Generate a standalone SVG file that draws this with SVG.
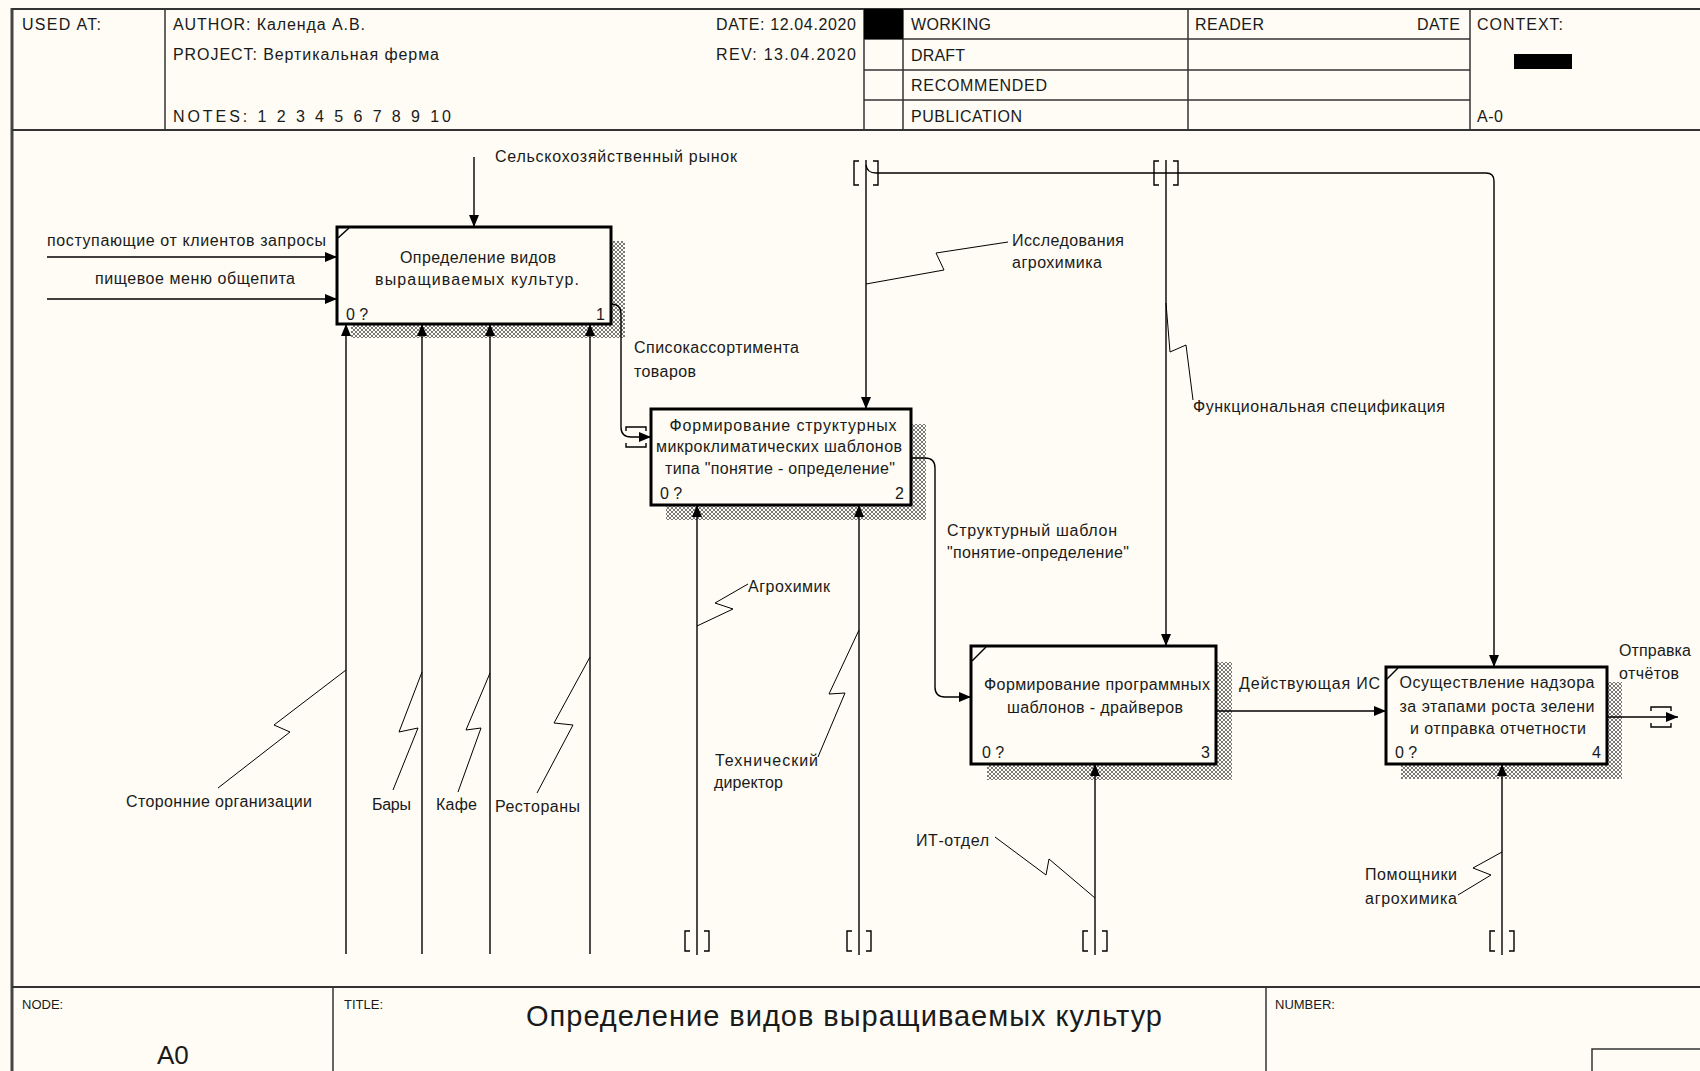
<svg xmlns="http://www.w3.org/2000/svg" width="1700" height="1071" viewBox="0 0 1700 1071" xml:space="preserve">
<style>
  text { font-family: "Liberation Sans", Arial, sans-serif; fill: #1a1a1a; }
  .h { font-size: 16px; }
  .lb { font-size: 16px; }
  .bt { font-size: 16px; text-anchor: middle; }
  .num { font-size: 16px; }
  .ft { font-size: 13px; }
  .frame { stroke: #333; stroke-width: 2; fill: none; }
  .grid { stroke: #333; stroke-width: 1.5; fill: none; }
  .box { fill: #fefcf4; stroke: #000; stroke-width: 3; }
  .shadow { fill: url(#hatch); stroke: none; }
  .arr { fill: none; stroke: #000; stroke-width: 1.4; }
  .arrm { fill: none; stroke: #000; stroke-width: 1.4; marker-end: url(#ah); }
  .sq { fill: none; stroke: #000; stroke-width: 1; }
  .br { fill: none; stroke: #000; stroke-width: 1.4; }
  .mark { fill: none; stroke: #000; stroke-width: 1.5; }
</style>
<defs>
  <pattern id="hatch" width="4" height="4" patternUnits="userSpaceOnUse">
    <rect width="4" height="4" fill="#fefcf4"/>
    <path d="M0,0 L4,4 M4,0 L0,4" stroke="#6a6a6a" stroke-width="0.9"/>
  </pattern>
  <marker id="ah" viewBox="0 0 12 10" refX="12" refY="5" markerWidth="12" markerHeight="10" markerUnits="userSpaceOnUse" orient="auto" preserveAspectRatio="none">
    <path d="M0,0 L12,5 L0,10 z" fill="#000"/>
  </marker>
</defs>
<rect x="0" y="0" width="1700" height="1071" fill="#fefcf4"/>

<g id="frame">
  <line x1="12" y1="8" x2="12" y2="1071" stroke="#444" stroke-width="3"/>
  <line class="frame" x1="12" y1="9" x2="1700" y2="9"/>
  <line class="frame" x1="12" y1="130" x2="1700" y2="130"/>
  <line class="frame" x1="12" y1="987" x2="1700" y2="987"/>
  <line class="grid" x1="165" y1="9" x2="165" y2="130"/>
  <line class="grid" x1="864" y1="9" x2="864" y2="130"/>
  <line class="grid" x1="903" y1="9" x2="903" y2="130"/>
  <line class="grid" x1="1188" y1="9" x2="1188" y2="130"/>
  <line class="grid" x1="1470" y1="9" x2="1470" y2="130"/>
  <line class="grid" x1="864" y1="39" x2="1470" y2="39"/>
  <line class="grid" x1="864" y1="70" x2="1470" y2="70"/>
  <line class="grid" x1="864" y1="100" x2="1470" y2="100"/>
  <rect x="864" y="9" width="39" height="30" fill="#000"/>
  <rect x="1514" y="54" width="58" height="15" fill="#000"/>
  <line class="grid" x1="333" y1="987" x2="333" y2="1071"/>
  <line class="grid" x1="1266" y1="987" x2="1266" y2="1071"/>
  <path class="grid" d="M1592,1071 L1592,1049 L1700,1049"/>
</g>

<g id="header-text">
  <text class="h" x="22" y="30" textLength="79">USED AT:</text>
  <text class="h" x="173" y="30" textLength="192">AUTHOR:  Календа А.В.</text>
  <text class="h" x="173" y="60" textLength="266">PROJECT:  Вертикальная ферма</text>
  <text class="h" x="173" y="122" textLength="278">NOTES:  1  2  3  4  5  6  7  8  9  10</text>
  <text class="h" x="716" y="30" textLength="140">DATE:  12.04.2020</text>
  <text class="h" x="716" y="60" textLength="140">REV:    13.04.2020</text>
  <text class="h" x="911" y="30" textLength="80">WORKING</text>
  <text class="h" x="911" y="61" textLength="54">DRAFT</text>
  <text class="h" x="911" y="91" textLength="136">RECOMMENDED</text>
  <text class="h" x="911" y="122" textLength="111">PUBLICATION</text>
  <text class="h" x="1195" y="30" textLength="69">READER</text>
  <text class="h" x="1417" y="30" textLength="43">DATE</text>
  <text class="h" x="1477" y="30" textLength="86">CONTEXT:</text>
  <text class="h" x="1477" y="122" textLength="26">A-0</text>
</g>

<g id="footer-text">
  <text class="ft" x="22" y="1009">NODE:</text>
  <text class="ft" x="344" y="1009">TITLE:</text>
  <text class="ft" x="1275" y="1009">NUMBER:</text>
  <text x="157" y="1064" style="font-size:26px">A0</text>
  <text x="526" y="1026" style="font-size:29px" textLength="636">Определение видов выращиваемых культур</text>
</g>

<g id="node-A1">
  <rect class="shadow" x="351" y="241" width="274" height="97"/>
  <rect class="box" x="337" y="227" width="274" height="97"/>
  <line class="mark" x1="338" y1="238" x2="349" y2="228"/>
  <text class="bt" x="478" y="263" textLength="156">Определение видов</text>
  <text class="bt" x="477" y="285" textLength="204">выращиваемых культур.</text>
  <text class="num" x="346" y="320">0 ?</text>
  <text class="num" x="605" y="320" text-anchor="end">1</text>
</g>

<g id="node-A2">
  <rect class="shadow" x="666" y="424" width="260" height="96"/>
  <rect class="box" x="651" y="409" width="260" height="96"/>
  <text class="bt" x="783" y="431" textLength="227">Формирование структурных</text>
  <text class="bt" x="779" y="452" textLength="246">микроклиматических шаблонов</text>
  <text class="bt" x="780" y="474" textLength="230">типа "понятие - определение"</text>
  <text class="num" x="660" y="499">0 ?</text>
  <text class="num" x="904" y="499" text-anchor="end">2</text>
</g>

<g id="node-A3">
  <rect class="shadow" x="987" y="662" width="245" height="118"/>
  <rect class="box" x="971" y="646" width="245" height="118"/>
  <line class="mark" x1="972" y1="661" x2="986" y2="647"/>
  <text class="bt" x="1097" y="690" textLength="226">Формирование программных</text>
  <text class="bt" x="1095" y="713" textLength="176">шаблонов - драйверов</text>
  <text class="num" x="982" y="758">0 ?</text>
  <text class="num" x="1210" y="758" text-anchor="end">3</text>
</g>

<g id="node-A4">
  <rect class="shadow" x="1401" y="682" width="221" height="97"/>
  <rect class="box" x="1386" y="667" width="221" height="97"/>
  <line class="mark" x1="1387" y1="679" x2="1398" y2="668"/>
  <text class="bt" x="1497" y="688" textLength="195">Осуществление надзора</text>
  <text class="bt" x="1497" y="712" textLength="195">за этапами роста зелени</text>
  <text class="bt" x="1498" y="734" textLength="176">и отправка отчетности</text>
  <text class="num" x="1395" y="758">0 ?</text>
  <text class="num" x="1601" y="758" text-anchor="end">4</text>
</g>

<g id="connectors">
  <path class="arrm" d="M474,157 L474,227"/>
  <path class="arrm" d="M47,257 L337,257"/>
  <path class="arrm" d="M47,299 L337,299"/>
  <path class="arrm" d="M346,954 L346,324"/>
  <path class="arrm" d="M422,954 L422,324"/>
  <path class="arrm" d="M490,954 L490,324"/>
  <path class="arrm" d="M590,954 L590,324"/>
  <path class="arrm" d="M611,304 Q621,304 621,314 L621,427 Q621,437 631,437 L651,437"/>
  <path class="arrm" d="M866,160 L866,409"/>
  <path class="arrm" d="M866,165 Q867,173 876,173 L1486,173 Q1494,173 1494,181 L1494,667"/>
  <path class="arrm" d="M1166,160 L1166,646"/>
  <path class="arrm" d="M911,458 L925,458 Q935,458 935,468 L935,687 Q935,697 945,697 L971,697"/>
  <path class="arrm" d="M697,955 L697,505"/>
  <path class="arrm" d="M859,955 L859,505"/>
  <path class="arrm" d="M1216,711 L1386,711"/>
  <path class="arrm" d="M1095,955 L1095,764"/>
  <path class="arrm" d="M1607,717 L1678,717"/>
  <path class="arrm" d="M1502,955 L1502,764"/>

  <path class="br" d="M859,161 L854,161 L854,185 L859,185 M873,161 L878,161 L878,185 L873,185"/>
  <path class="br" d="M1159,161 L1154,161 L1154,185 L1159,185 M1173,161 L1178,161 L1178,185 L1173,185"/>
  <path class="br" d="M690,931 L685,931 L685,951 L690,951 M704,931 L709,931 L709,951 L704,951"/>
  <path class="br" d="M852,931 L847,931 L847,951 L852,951 M866,931 L871,931 L871,951 L866,951"/>
  <path class="br" d="M1088,931 L1083,931 L1083,951 L1088,951 M1102,931 L1107,931 L1107,951 L1102,951"/>
  <path class="br" d="M1495,931 L1490,931 L1490,951 L1495,951 M1509,931 L1514,931 L1514,951 L1509,951"/>
  <path class="br" d="M626,431 L626,427 L646,427 L646,431 M626,443 L626,447 L646,447 L646,443"/>
  <path class="br" d="M1651,711 L1651,707 L1671,707 L1671,711 M1651,723 L1651,727 L1671,727 L1671,723"/>

  <path class="sq" d="M1008,242 L936,253 L944,270 L866,284"/>
  <path class="sq" d="M1166,303 L1170,352 L1186,345 L1193,400"/>
  <path class="sq" d="M697,626 L733,609 L715,603 L748,584"/>
  <path class="sq" d="M818,757 L845,693 L829,694 L859,630"/>
  <path class="sq" d="M218,788 L290,732 L274,725 L346,670"/>
  <path class="sq" d="M393,790 L418,728 L399,732 L422,672"/>
  <path class="sq" d="M458,792 L481,728 L466,730 L490,673"/>
  <path class="sq" d="M537,793 L573,725 L554,723 L590,657"/>
  <path class="sq" d="M995,837 L1046,875 L1049,859 L1095,898"/>
  <path class="sq" d="M1458,895 L1491,875 L1473,868 L1502,852"/>
</g>

<g id="labels">
  <text class="lb" x="495" y="162" textLength="242">Сельскохозяйственный рынок</text>
  <text class="lb" x="47" y="246" textLength="279">поступающие от клиентов запросы</text>
  <text class="lb" x="95" y="284" textLength="200">пищевое меню общепита</text>
  <text class="lb" x="634" y="353" textLength="165">Списокассортимента</text>
  <text class="lb" x="634" y="377" textLength="62">товаров</text>
  <text class="lb" x="1012" y="246" textLength="112">Исследования</text>
  <text class="lb" x="1012" y="268" textLength="90">агрохимика</text>
  <text class="lb" x="1193" y="412" textLength="252">Функциональная спецификация</text>
  <text class="lb" x="947" y="536" textLength="170">Структурный шаблон</text>
  <text class="lb" x="947" y="558" textLength="182">"понятие-определение"</text>
  <text class="lb" x="748" y="592" textLength="82">Агрохимик</text>
  <text class="lb" x="715" y="766" textLength="103">Технический</text>
  <text class="lb" x="714" y="788" textLength="69">директор</text>
  <text class="lb" x="126" y="807" textLength="186">Сторонние организации</text>
  <text class="lb" x="372" y="810" textLength="39">Бары</text>
  <text class="lb" x="436" y="810" textLength="41">Кафе</text>
  <text class="lb" x="495" y="812" textLength="85">Рестораны</text>
  <text class="lb" x="916" y="846" textLength="73">ИТ-отдел</text>
  <text class="lb" x="1365" y="880" textLength="92">Помощники</text>
  <text class="lb" x="1365" y="904" textLength="92">агрохимика</text>
  <text class="lb" x="1239" y="689" textLength="141">Действующая ИС</text>
  <text class="lb" x="1619" y="656" textLength="72">Отправка</text>
  <text class="lb" x="1619" y="679" textLength="60">отчётов</text>
</g>
</svg>
